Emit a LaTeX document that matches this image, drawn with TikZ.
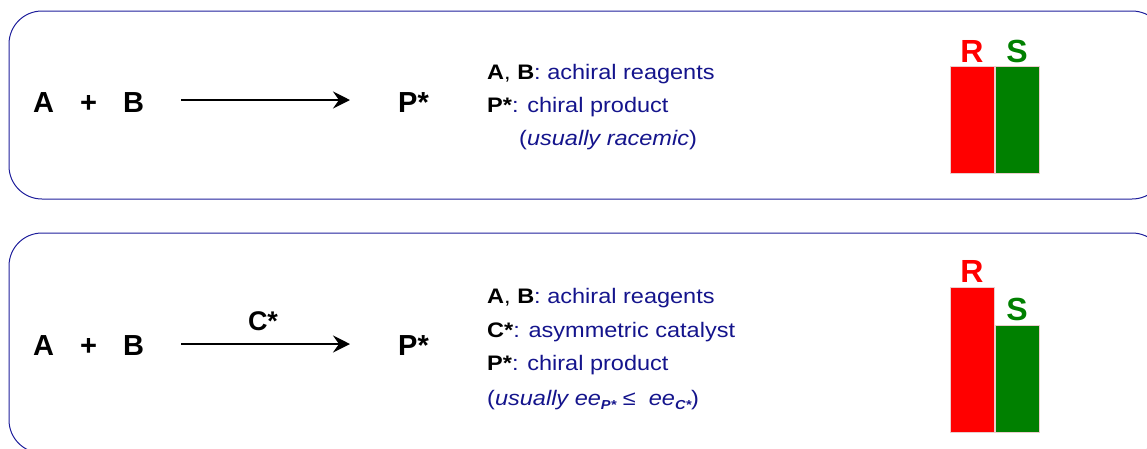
\documentclass[tikz,border=0pt]{standalone}
\usepackage{fontspec}
\setmainfont{Liberation Sans}
\newfontfamily\legendfont[FakeStretch=1.12]{Liberation Sans}
\usepackage{tikz}
\usetikzlibrary{arrows.meta}
\definecolor{framenavy}{RGB}{30,30,155}
\definecolor{textnavy}{RGB}{20,20,140}
\definecolor{barred}{RGB}{255,0,0}
\definecolor{bargreen}{RGB}{0,128,0}
\definecolor{barrim}{RGB}{235,205,205}
\newcommand{\eesub}[1]{\raisebox{-4pt}{\fontsize{13}{14}\selectfont\bfseries\itshape #1}}
\tikzset{
  panel/.style={draw=framenavy,rounded corners=33pt,line width=1pt},
  species/.style={font=\fontsize{29}{34}\selectfont\bfseries,anchor=base west,inner sep=0pt},
  legend/.style={font=\legendfont\fontsize{21}{24}\selectfont,text=textnavy,anchor=base west,inner sep=0pt},
  bar/.style={draw=barrim,line width=0.6pt},
  barlabel/.style={font=\fontsize{32}{36}\selectfont\bfseries,anchor=base,inner sep=0pt},
  react/.style={-{Stealth[length=17pt,width=17pt,inset=6pt]},line width=2.9pt}
}
\begin{document}
\begin{tikzpicture}[x=1pt,y=-1pt]
\useasboundingbox (0,0) rectangle (1147,448);
% Uncatalysed
\draw[panel] (9,11) rectangle (1165,199);
\node[species] (ua) at (33,112) {A};
\node[species] (up) at (80,112) {+};
\node[species] (ub) at (123,112) {B};
\node[species] (uq) at (398,112) {P*};
\coordinate (ut) at (181,100);\coordinate (uh) at (350,100);
\draw[react] (ut)--(uh);
\node[legend] (ul1) at (487,79) {\textcolor{black}{\textbf{A}, \textbf{B}}: achiral reagents};
\node[legend] (ul2) at (487,112) {\textcolor{black}{\textbf{P*}}: chiral product};
\node[legend] (ul3) at (519,145) {(\textit{usually racemic})};
\draw[bar,fill=barred] (950,66) rectangle (994,173);
\draw[bar,fill=bargreen] (995,66) rectangle (1039,173);
\node[barlabel,text=barred] (ur) at (972,62) {R};
\node[barlabel,text=bargreen] (us) at (1017,62) {S};
% Catalysed
\draw[panel] (9,233) rectangle (1165,453);
\node[species] (ca) at (33,355) {A};
\node[species] (cp) at (80,355) {+};
\node[species] (cb) at (123,355) {B};
\node[species] (cq) at (398,355) {P*};
\coordinate (ct) at (181,344);\coordinate (ch) at (350,344);
\draw[react] (ct)--(ch);
\node[species,font=\fontsize{27}{32}\selectfont\bfseries,anchor=base] (cc) at (263,330) {C*};
\node[legend] (cl1) at (487,303) {\textcolor{black}{\textbf{A}, \textbf{B}}: achiral reagents};
\node[legend] (cl2) at (487,337) {\textcolor{black}{\textbf{C*}}: asymmetric catalyst};
\node[legend] (cl3) at (487,370) {\textcolor{black}{\textbf{P*}}: chiral product};
\node[legend] (cl4) at (487,405) {(\textit{usually ee}\eesub{P*} ≤~ \textit{ee}\eesub{C*})};
\draw[bar,fill=barred] (950,287) rectangle (994,432);
\draw[bar,fill=bargreen] (995,325) rectangle (1039,432);
\node[barlabel,text=barred] (cr) at (972,282) {R};
\node[barlabel,text=bargreen] (cs) at (1017,320) {S};
\end{tikzpicture}
\end{document}
